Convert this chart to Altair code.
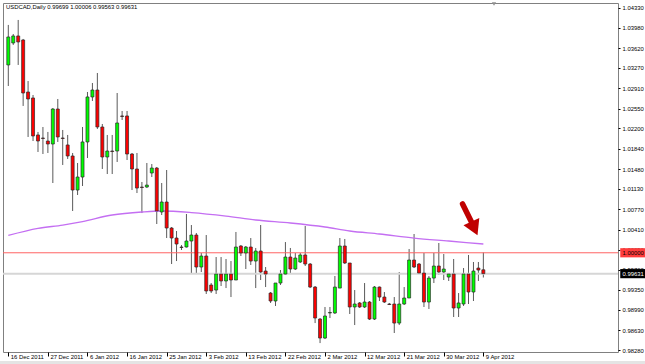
import altair as alt
import pandas as pd

# ---------------- data ----------------
date_labels = ["16 Dec 2011", "27 Dec 2011", "6 Jan 2012", "16 Jan 2012", "25 Jan 2012",
               "3 Feb 2012", "13 Feb 2012", "22 Feb 2012", "2 Mar 2012", "12 Mar 2012",
               "21 Mar 2012", "30 Mar 2012", "9 Apr 2012"]

opens = [1.03322, 1.03711, 1.03835, 1.03764, 1.02844, 1.02738, 1.02084, 1.02030, 1.01977, 1.01924,
         1.02543, 1.02030, 1.01907, 1.01712, 1.01110, 1.01340, 1.01960, 1.02756, 1.02879, 1.02225,
         1.01694, 1.01800, 1.01800, 1.02420, 1.02420, 1.01747, 1.01482, 1.01163, 1.01163, 1.01411,
         1.01499, 1.00721, 1.00898, 1.00438, 1.00261, 1.00102, 1.00102, 1.00208, 1.00314, 0.99748,
         0.99943, 0.99430, 0.99341, 0.99624, 0.99501, 0.99624, 0.99518, 1.00120, 0.99996, 1.00102,
         0.99854, 1.00031, 0.99677, 0.99288, 0.99147, 0.99465, 0.99624, 0.99925, 0.99713, 0.99837,
         0.99961, 0.99801, 0.99394, 0.98828, 0.98492, 0.98935, 0.98935, 0.99376, 1.00120, 0.99819,
         0.99041, 0.99112, 0.99041, 0.99129, 0.98828, 0.99394, 0.99217, 0.99094, 0.99094, 0.98757,
         0.99094, 0.99200, 0.99872, 0.99801, 0.99642, 0.99129, 0.99553, 0.99766, 0.99660, 0.99571,
         0.99624, 0.99023, 0.99094, 0.99624, 0.99306, 0.99730, 0.99699]
highs = [1.04030, 1.03870, 1.04118, 1.03782, 1.03038, 1.02791, 1.02137, 1.02225, 1.02137, 1.02561,
         1.02720, 1.02172, 1.02084, 1.01765, 1.01588, 1.02225, 1.02844, 1.03003, 1.03180, 1.02278,
         1.02084, 1.02084, 1.02826, 1.02508, 1.02508, 1.01765, 1.01765, 1.01252, 1.01588, 1.01570,
         1.01517, 1.01234, 1.01464, 1.00456, 1.00385, 1.00137, 1.00686, 1.00491, 1.00350, 0.99996,
         1.00314, 0.99465, 0.99925, 0.99925, 0.99890, 0.99854, 1.00368, 1.00137, 1.00120, 1.00261,
         1.00085, 1.00491, 0.99748, 0.99306, 0.99465, 0.99695, 1.00190, 1.00085, 0.99996, 0.99996,
         1.00474, 0.99819, 0.99412, 0.98846, 0.99041, 0.99041, 0.99589, 1.00261, 1.00244, 0.99819,
         0.99341, 0.99129, 0.99465, 0.99147, 0.99412, 0.99403, 0.99306, 0.99112, 0.99217, 0.99660,
         0.99394, 1.00067, 1.00332, 0.99819, 0.99996, 0.99589, 0.99996, 1.00173, 0.99978, 0.99642,
         0.99890, 0.99288, 0.99730, 0.99961, 0.99837, 0.99837, 1.00006]
lows = [1.02950, 1.03676, 1.03322, 1.02597, 1.02048, 1.01977, 1.01783, 1.01747, 1.01765, 1.01234,
        1.01960, 1.01553, 1.01659, 1.00739, 1.01022, 1.01181, 1.01676, 1.02685, 1.02190, 1.01482,
        1.01393, 1.01393, 1.01606, 1.02349, 1.01641, 1.01110, 1.01057, 1.00703, 1.01145, 1.01340,
        1.00509, 1.00668, 1.00261, 0.99801, 0.99854, 1.00049, 1.00093, 0.99642, 0.99642, 0.99660,
        0.99271, 0.99288, 0.99271, 0.99412, 0.99376, 0.99217, 0.99518, 0.99943, 0.99713, 0.99784,
        0.99376, 0.99518, 0.99394, 0.99112, 0.99059, 0.99430, 0.99607, 0.99642, 0.99695, 0.99819,
        0.99766, 0.99376, 0.98757, 0.98403, 0.98474, 0.98846, 0.98917, 0.99376, 0.99801, 0.98917,
        0.98722, 0.99023, 0.99023, 0.98811, 0.98811, 0.99147, 0.99112, 0.99076, 0.98581, 0.98722,
        0.99076, 0.99200, 0.99730, 0.99635, 0.99041, 0.99006, 0.99465, 0.99607, 0.99518, 0.99501,
        0.98864, 0.98864, 0.99059, 0.99094, 0.99147, 0.99501, 0.99563]
closes = [1.03817, 1.03835, 1.03729, 1.02826, 1.02720, 1.02066, 1.01977, 1.02022, 1.01924, 1.02543,
          1.02048, 1.02022, 1.01712, 1.01110, 1.01340, 1.01960, 1.02756, 1.02879, 1.02225, 1.01694,
          1.01800, 1.01791, 1.02296, 1.02411, 1.01747, 1.01482, 1.01145, 1.01154, 1.01198, 1.01499,
          1.00739, 1.00898, 1.00438, 1.00261, 1.00155, 1.00093, 1.00208, 1.00314, 0.99748, 0.99943,
          0.99324, 0.99324, 0.99624, 0.99501, 0.99624, 0.99518, 1.00102, 0.99996, 1.00102, 0.99854,
          1.00031, 0.99660, 0.99624, 0.99147, 0.99465, 0.99624, 0.99925, 0.99713, 0.99907, 0.99961,
          0.99801, 0.99394, 0.98846, 0.98492, 0.98882, 0.98944, 0.99394, 1.00120, 0.99819, 0.99041,
          0.99094, 0.99041, 0.99129, 0.98828, 0.99394, 0.99217, 0.99129, 0.99085, 0.98757, 0.99094,
          0.99200, 0.99872, 0.99748, 0.99642, 0.99129, 0.99553, 0.99766, 0.99660, 0.99713, 0.99624,
          0.99023, 0.99112, 0.99624, 0.99306, 0.99677, 0.99695, 0.99631]

ma_idx = [0, 6, 11, 15, 21, 27, 31, 37, 44, 50, 57, 64, 69, 75, 82, 89, 96]
ma_vals = [1.00306, 1.00430, 1.00491, 1.00553, 1.00668, 1.00721, 1.00739, 1.00712, 1.00650,
           1.00580, 1.00527, 1.00456, 1.00385, 1.00332, 1.00261, 1.00208, 1.00155]

y_ticks = [1.04330, 1.03980, 1.03620, 1.03270, 1.02910, 1.02550, 1.02200, 1.01840, 1.01480,
           1.01130, 1.00770, 1.00410, 1.00050, 0.99700, 0.99350, 0.98990, 0.98630, 0.98280]

level_price = [1.00000]
bid_price = [0.99631]
header = "USDCAD,Daily  0.99699 1.00006 0.99563 0.99631"

# arrow annotation (bar index, price)
arrow_start = (91.8, 1.00863)
arrow_end = (93.8, 1.00509)
arrow_head = (94.2, 1.00430)

# ---------------- chart ----------------
FONT = "Liberation Sans"
FS = 5.9

df = pd.DataFrame({"i": list(range(len(opens))), "open": opens, "high": highs,
                   "low": lows, "close": closes})
df["dir"] = ["up" if c >= o else "down" for o, c in zip(opens, closes)]
ma = pd.DataFrame({"i": ma_idx, "ma": ma_vals})

xscale = alt.Scale(domain=[-0.06, 122.2], nice=False, zero=False)
yscale = alt.Scale(domain=[0.98245, 1.04418], nice=False, zero=False)

label_expr = "[" + ",".join("'%s'" % d for d in date_labels) + "][round(datum.value/8)]"

x_axis = alt.Axis(values=list(range(0, 8 * len(date_labels), 8)), labelExpr=label_expr,
                  tickSize=4, labelAlign="left", labelBaseline="middle", labelPadding=0.5,
                  labelOffset=2, labelFontSize=FS, labelFont=FONT, grid=False, domain=False,
                  tickColor="#000000", labelColor="#000000", title=None,
                  labelOverlap=False, labelFlush=False)
y_axis = alt.Axis(orient="right", values=y_ticks, format=".5f", tickSize=2, labelPadding=2,
                  labelFontSize=FS, labelFont=FONT, labelBaseline="middle", labelAlign="left",
                  grid=False, domain=False, tickColor="#000000", labelColor="#000000",
                  title=None, labelOverlap=False, labelFlush=False)

X = lambda f: alt.X(f, scale=xscale, axis=x_axis)
Y = lambda f: alt.Y(f, scale=yscale, axis=y_axis)

level_df = pd.DataFrame({"p": level_price, "t": ["%.5f" % v for v in level_price]})
bid_df = pd.DataFrame({"p": bid_price, "t": ["%.5f" % v for v in bid_price]})

bid_line = alt.Chart(bid_df).mark_rule(color="#d6d6d6", strokeWidth=2).encode(y=Y("p:Q"))
level_line = alt.Chart(level_df).mark_rule(color="#ff6464", strokeWidth=1).encode(y=Y("p:Q"))

wicks = alt.Chart(df).mark_rule(color="#5a5a5a", strokeWidth=1, clip=True).encode(
    x=X("i:Q"), y=Y("low:Q"), y2="high:Q")

bodies = alt.Chart(df).mark_bar(size=3, stroke="#2a2a2a", strokeWidth=0.7, clip=True).encode(
    x=X("i:Q"), y=Y("open:Q"), y2="close:Q",
    color=alt.Color("dir:N", scale=alt.Scale(domain=["up", "down"], range=["#00ff00", "#ff0000"]),
                    legend=None))

ma_line = alt.Chart(ma).mark_line(color="#c46ff2", strokeWidth=1.3, interpolate="monotone",
                                   clip=True).encode(x=X("i:Q"), y=Y("ma:Q"))

arr_df = pd.DataFrame({"i": [arrow_start[0]], "p": [arrow_start[1]],
                       "i2": [arrow_end[0]], "p2": [arrow_end[1]]})
arrow_shaft = alt.Chart(arr_df).mark_rule(color="#c00000", strokeWidth=5.5, strokeCap="round").encode(
    x=X("i:Q"), y=Y("p:Q"), x2="i2:Q", y2="p2:Q")
head_df = pd.DataFrame({"i": [arrow_head[0]], "p": [arrow_head[1]]})
arrow_head_m = alt.Chart(head_df).mark_point(shape="triangle-down", filled=True, size=300, angle=336,
                                             color="#c00000", opacity=1).encode(x=X("i:Q"), y=Y("p:Q"))

header_t = alt.Chart(df.head(1)).mark_text(align="left", baseline="middle", fontSize=FS, font=FONT,
                                          color="#000000").encode(
    x=alt.value(3), y=alt.value(4), text=alt.value(header))

shift_mark = alt.Chart(df.head(1)).mark_point(shape="triangle-down", filled=True, size=18,
                                              color="#909090", opacity=1).encode(
    x=alt.value(491), y=alt.value(1))

box_shape = "M-1,-0.36L1,-0.36L1,0.36L-1,0.36Z"
level_box = alt.Chart(level_df).mark_point(shape=box_shape, filled=True, size=650, color="#ff3b3b",
                                           opacity=1).encode(x=alt.value(630), y=Y("p:Q"))
level_txt = alt.Chart(level_df).mark_text(align="left", baseline="middle", fontSize=FS, font=FONT,
                                          color="#000000").encode(x=alt.value(619.5), y=Y("p:Q"), text="t:N")
bid_box = alt.Chart(bid_df).mark_point(shape=box_shape, filled=True, size=650, color="#000000",
                                       opacity=1).encode(x=alt.value(630), y=Y("p:Q"))
bid_txt = alt.Chart(bid_df).mark_text(align="left", baseline="middle", fontSize=FS, font=FONT,
                                      color="#ffffff").encode(x=alt.value(619.5), y=Y("p:Q"), text="t:N")

bottom_band = alt.Chart(df.head(1)).mark_rect(color="#e4e4e4").encode(
    x=alt.value(-3), x2=alt.value(642), y=alt.value(358), y2=alt.value(361))

chart = alt.layer(
    wicks, bid_line, level_line, ma_line, bodies, arrow_shaft, arrow_head_m,
    header_t, shift_mark, level_box, level_txt, bid_box, bid_txt, bottom_band
).properties(
    width=615, height=349,
    padding={"left": 3, "top": 3, "right": 27, "bottom": 12},
    autosize=alt.AutoSizeParams(type="none"),
    background="#ffffff"
).configure_view(stroke="#808080", strokeWidth=1)

chart.save("out.html", embed_options={"renderer": "svg", "actions": False})
